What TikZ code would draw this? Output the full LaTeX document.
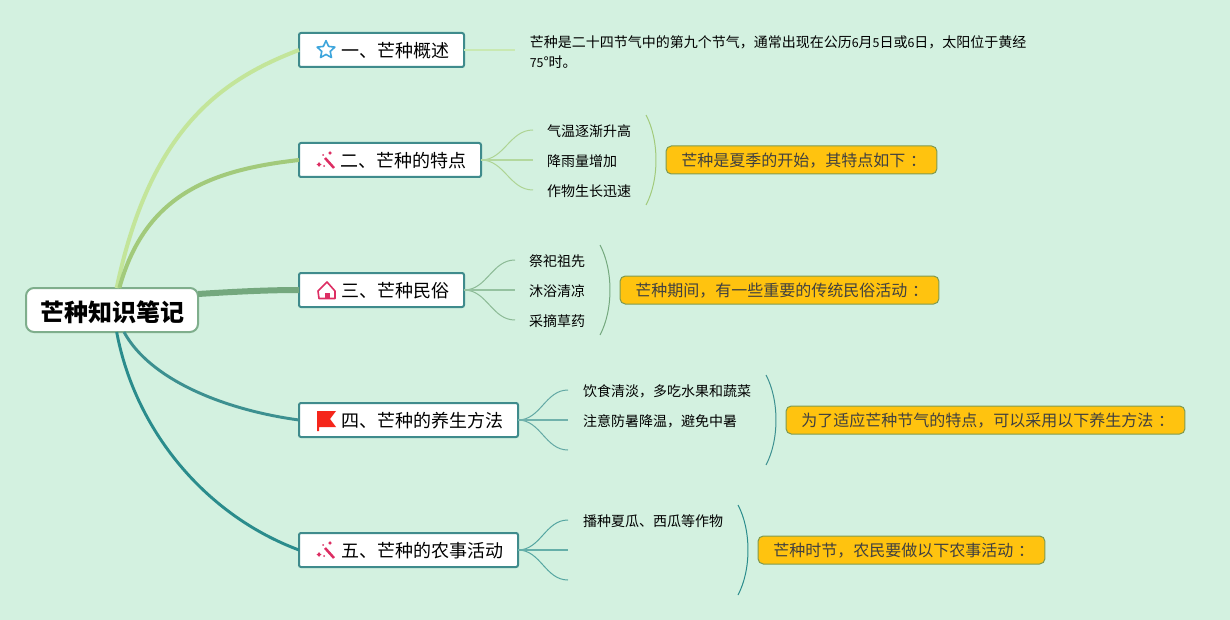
\documentclass[tikz,border=0pt]{standalone}
\usepackage{fontspec}
\setmainfont{Noto Sans CJK SC}
\usetikzlibrary{shapes.geometric}
\definecolor{mint-bg}{HTML}{D3F1E0}
\definecolor{topic-edge}{HTML}{3F8B8C}
\definecolor{root-edge}{HTML}{7FAE8C}
\definecolor{note-fill}{HTML}{FFC30F}
\definecolor{note-edge}{HTML}{7F9A50}
\definecolor{branch-a}{HTML}{C3E59A}
\definecolor{branch-b}{HTML}{A2CA7B}
\definecolor{branch-c}{HTML}{74A87E}
\definecolor{branch-d}{HTML}{3C9090}
\definecolor{branch-e}{HTML}{2A8C8C}
\definecolor{icon-pink}{HTML}{DD2E63}
\definecolor{icon-blue}{HTML}{3DA5DC}
\definecolor{icon-red}{HTML}{F5261B}
\newcommand{\slimnum}[1]{{\fontsize{9.3}{15}\selectfont #1}}
\newcommand{\midcolon}{\hspace{3.5pt}：\kern-3.5pt}
\tikzset{
    wand/.pic={
        \draw[icon-pink, line width=1.9pt] (-1,-2) -- (8,8);
        \fill[icon-pink] (-7,2) -- (-6,3.5) -- (-4.5,4.5) -- (-6,5.5) -- (-7,7) -- (-8,5.5) -- (-9.5,4.5) -- (-8,3.5) -- cycle;
        \fill[icon-pink] (4,-9) -- (4.8,-7.8) -- (6,-7) -- (4.8,-6.2) -- (4,-5) -- (3.2,-6.2) -- (2,-7) -- (3.2,-7.8) -- cycle;
        \fill[icon-pink] (-3,-5) circle (1);
        \fill[icon-pink] (-2,6) circle (1);
    },
}
\begin{document}
\begin{tikzpicture}[
    x=0.75pt, y=-0.75pt,
    font=\fontsize{13.5}{16}\selectfont,
    root/.style={draw=root-edge, fill=white, line width=1.5pt, rounded corners=6pt, minimum width=129pt, minimum height=33pt, inner sep=0pt, outer sep=0pt, text height=18.5pt, text depth=1.8pt, font=\fontsize{18}{22}\selectfont\bfseries},
    topic/.style={draw=topic-edge, fill=white, line width=1.5pt, rounded corners=1.5pt, minimum height=25.5pt, inner xsep=11.25pt, inner ysep=0pt, outer sep=0pt, anchor=west, align=right, text width=#1, text height=13pt, text depth=1.3pt},
    item/.style={anchor=west, inner xsep=10.5pt, inner ysep=0pt, outer sep=0pt, text height=11pt, text depth=1.5pt, font=\fontsize{10.5}{15}\selectfont},
    note/.style={draw=note-edge, fill=note-fill, line width=0.75pt, rounded corners=4pt, minimum height=21pt, inner xsep=11.6pt, inner ysep=0pt, outer sep=0pt, anchor=west, text=black!75, text height=11.5pt, text depth=1.5pt, font=\fontsize{12}{15}\selectfont},
    twig/.style={line width=0.75pt, draw=#1!75!mint-bg},
    midtwig/.style={line width=1pt, draw=#1!65!mint-bg},
    brace/.style={line width=0.75pt, draw=#1},
]
\useasboundingbox (0,0) rectangle (1230,620);
\fill[mint-bg] (0,0) rectangle (1230,620);

\node[root] (root) at (112,310) {芒种知识笔记};
\node[topic=101.25pt] (overview) at (299,50) {一、芒种概述};
\node[topic=114pt] (traits) at (299,160) {二、芒种的特点};
\node[topic=101.25pt] (customs) at (299,290) {三、芒种民俗};
\node[topic=141.75pt] (health) at (299,420) {四、芒种的养生方法};
\node[topic=141.75pt] (farming) at (299,550) {五、芒种的农事活动};

\draw[branch-a, line width=3pt] ([xshift=3.5pt]root.north) .. controls (150,130) and (220,80) .. (overview.west);
\draw[branch-b, line width=3pt] ([xshift=5.5pt]root.north) .. controls (145,195) and (210,170) .. (traits.west);
\draw[branch-c, line width=4.5pt] ([yshift=12pt]root.east) .. controls (230,292) and (265,290) .. (customs.west);
\draw[branch-d, line width=2.2pt] ([xshift=9pt]root.south) .. controls (150,380) and (225,410) .. (health.west);
\draw[branch-e, line width=2.2pt] ([xshift=3.5pt]root.south) .. controls (135,430) and (205,515) .. (farming.west);

\node[star, star points=5, star point ratio=2.1, minimum size=14pt, inner sep=0pt, draw=icon-blue, line width=1.2pt, line join=round] (staricon) at (326,50) {};
\pic at (326,160) {wand};
\draw[icon-pink, line width=1.2pt, line join=round] (318,291) -- (327,282) -- (335,291) -- (335,298.5) -- (319,298.5) -- cycle;
\fill[icon-pink] (324.5,299) -- (324.5,293) -- (329.5,293) -- (329.5,299) -- cycle;
\fill[icon-red] (317,411) -- (336,411) -- (330,419) -- (336,427) -- (319,427) -- (319,431) -- (317,431) -- cycle;
\pic at (326,550) {wand};

\coordinate (overviewend) at (515,50);
\draw[midtwig=branch-a] (overview.east) -- (overviewend);
\node[anchor=west, align=left, inner sep=0pt, font=\fontsize{10.5}{15}\selectfont] (overviewtext) at (529.5,52) {芒种是二十四节气中的第九个节气，通常出现在公历\slimnum{6}月\slimnum{5}日或\slimnum{6}日，太阳位于黄经\\\slimnum{75}°时。};

\node[item] (traita) at (533,130) {气温逐渐升高};
\node[item] (traitb) at (533,160) {降雨量增加};
\node[item] (traitc) at (533,190) {作物生长迅速};
\foreach \leaf in {traita,traitc}
    \draw[twig=branch-b] (traits.east) to[out=0, in=180] (\leaf.west);
\draw[midtwig=branch-b] (traits.east) -- (traitb.west);

\node[item, inner xsep=0pt] (customa) at (529,260) {祭祀祖先};
\node[item, inner xsep=0pt] (customb) at (529,290) {沐浴清凉};
\node[item, inner xsep=0pt] (customc) at (529,320) {采摘草药};
\coordinate (customaend) at (515,260);
\coordinate (custombend) at (515,290);
\coordinate (customcend) at (515,320);
\foreach \leaf in {customaend,customcend}
    \draw[twig=branch-c] (customs.east) to[out=0, in=180] (\leaf);
\draw[midtwig=branch-c] (customs.east) -- (custombend);

\node[item, inner xsep=0pt] (healtha) at (583,390) {饮食清淡，多吃水果和蔬菜};
\node[item, inner xsep=0pt] (healthb) at (583,420) {注意防暑降温，避免中暑};
\coordinate (healthaend) at (568,390);
\coordinate (healthbend) at (568,420);
\coordinate (healthcend) at (568,450);
\foreach \leaf in {healthaend,healthcend}
    \draw[twig=branch-d] (health.east) to[out=0, in=180] (\leaf);
\draw[midtwig=branch-d] (health.east) -- (healthbend);

\node[item, inner xsep=0pt] (farminga) at (583,520) {播种夏瓜、西瓜等作物};
\coordinate (farmingaend) at (568,520);
\coordinate (farmingbend) at (568,550);
\coordinate (farmingcend) at (568,580);
\foreach \leaf in {farmingaend,farmingcend}
    \draw[twig=branch-e] (farming.east) to[out=0, in=180] (\leaf);
\draw[midtwig=branch-e] (farming.east) -- (farmingbend);

\draw[brace=branch-b] (646,115) .. controls (659.3,140) and (659.3,180) .. (646,205);
\draw[brace=branch-c] (600,245) .. controls (613.3,270) and (613.3,310) .. (600,335);
\draw[brace=branch-d] (766,375) .. controls (779.3,400) and (779.3,440) .. (766,465);
\draw[brace=branch-e] (738,505) .. controls (751.3,530) and (751.3,570) .. (738,595);

\node[note] (traitsnote) at (666,160) {芒种是夏季的开始，其特点如下\midcolon};
\node[note] (customsnote) at (620,290) {芒种期间，有一些重要的传统民俗活动\midcolon};
\node[note] (healthnote) at (786,420) {为了适应芒种节气的特点，可以采用以下养生方法\midcolon};
\node[note] (farmingnote) at (758,550) {芒种时节，农民要做以下农事活动\midcolon};
\end{tikzpicture}
\end{document}
